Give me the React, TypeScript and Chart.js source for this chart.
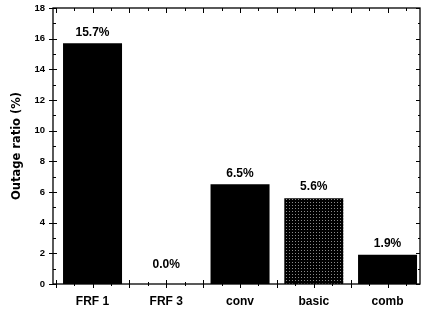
import { useEffect, useRef } from "react";
import { Chart, registerables } from "chart.js";

Chart.register(...registerables);

const categories = ["FRF 1", "FRF 3", "conv", "basic", "comb"];
const outageRatio = [15.7, 0.0, 6.5, 5.6, 1.9];
const yTickValues = [0, 2, 4, 6, 8, 10, 12, 14, 16, 18];
const yTitle = "Outage ratio (%)";

const X_MIN = 0.464;
const X_MAX = 5.44;
const SANS = "'Liberation Sans', Arial, sans-serif";

const framePlugin = {
  id: "frameTicks",
  afterDatasetsDraw(chart: any) {
    const { ctx, chartArea, scales } = chart;
    const { left, right, top, bottom } = chartArea;
    const x = scales.x;
    const y = scales.y;
    ctx.save();
    ctx.strokeStyle = "#000";
    ctx.lineWidth = 1.3;
    ctx.strokeRect(left, top, right - left, bottom - top);
    ctx.lineWidth = 1;
    ctx.beginPath();
    for (let v = 0; v <= 18; v++) {
      const py = Math.round(y.getPixelForValue(v)) + 0.5;
      const major = v % 2 === 0;
      ctx.moveTo(left - (major ? 4 : 0), py);
      ctx.lineTo(left + (major ? 4 : 3), py);
      ctx.moveTo(right, py);
      ctx.lineTo(right - (major ? 4 : 2), py);
    }
    for (let k = Math.ceil(X_MIN * 4); k <= Math.floor(X_MAX * 4); k++) {
      const px = Math.round(x.getPixelForValue(k / 4)) + 0.5;
      const major = k % 2 === 0;
      ctx.moveTo(px, bottom + (major ? 4 : 2));
      ctx.lineTo(px, bottom - (major ? 4 : 2));
      ctx.moveTo(px, top);
      ctx.lineTo(px, top + (major ? 5 : 3));
    }
    ctx.stroke();
    ctx.restore();
  },
};

const valueLabelPlugin = {
  id: "valueLabels",
  afterDatasetsDraw(chart: any) {
    const { ctx } = chart;
    const meta = chart.getDatasetMeta(0);
    const base = chart.scales.y.getPixelForValue(0);
    ctx.save();
    ctx.fillStyle = "#000";
    ctx.font = `bold 12px ${SANS}`;
    ctx.textAlign = "center";
    ctx.textBaseline = "middle";
    meta.data.forEach((bar: any, i: number) => {
      const ty = Math.min(bar.y - 11, base - 19);
      ctx.fillText(`${outageRatio[i].toFixed(1)}%`, bar.x, ty);
    });
    ctx.restore();
  },
};

export default function App() {
  const canvasRef = useRef<HTMLCanvasElement | null>(null);

  useEffect(() => {
    const canvas = canvasRef.current;
    if (!canvas) return;
    const ctx = canvas.getContext("2d");
    if (!ctx) return;

    const pc = document.createElement("canvas");
    pc.width = 3;
    pc.height = 3;
    const p = pc.getContext("2d")!;
    p.fillStyle = "#000";
    p.fillRect(0, 0, 3, 3);
    p.fillStyle = "#8a8a8a";
    p.fillRect(1, 1, 1, 1);
    const dots = ctx.createPattern(pc, "repeat") as CanvasPattern;

    const colors = categories.map((c) => (c === "basic" ? dots : "#000"));

    const chart = new Chart(ctx, {
      type: "bar",
      data: {
        datasets: [
          {
            data: outageRatio.map((v, i) => ({ x: i + 1, y: v })),
            backgroundColor: colors as any,
            borderWidth: 0,
            barPercentage: 0.8,
            categoryPercentage: 1,
          },
        ],
      },
      options: {
        responsive: false,
        animation: false,
        layout: { padding: { top: 8, right: 3, left: 0, bottom: 0 } },
        plugins: {
          legend: { display: false },
          tooltip: { enabled: false },
        },
        scales: {
          x: {
            type: "linear",
            offset: false,
            min: X_MIN,
            max: X_MAX,
            grid: { display: false, drawTicks: false, offset: false },
            border: { display: false },
            afterBuildTicks: (scale: any) => {
              scale.ticks = categories.map((_, i) => ({ value: i + 1 }));
            },
            afterFit: (scale: any) => {
              scale.height = 26;
              scale.paddingLeft = 0;
              scale.paddingRight = 0;
            },
            ticks: {
              autoSkip: false,
              maxRotation: 0,
              padding: 10,
              color: "#000",
              font: { family: SANS, size: 12, weight: "bold" },
              callback: (_v: any, index: number) => categories[index],
            },
          },
          y: {
            min: 0,
            max: 18,
            grid: { display: false, drawTicks: false },
            border: { display: false },
            afterBuildTicks: (scale: any) => {
              scale.ticks = yTickValues.map((v) => ({ value: v }));
            },
            afterFit: (scale: any) => {
              scale.width = 53;
              scale.paddingTop = 0;
              scale.paddingBottom = 0;
            },
            ticks: {
              padding: 8,
              color: "#000",
              font: { family: SANS, size: 9.5, weight: "bold" },
            },
            title: {
              display: true,
              text: yTitle,
              color: "#000",
              padding: { top: 10, bottom: 0 },
              font: { family: "'DejaVu Sans', sans-serif", size: 11.5, weight: "bold" },
            },
          },
        },
      },
      plugins: [framePlugin, valueLabelPlugin],
    });

    return () => chart.destroy();
  }, []);

  return (
    <div style={{ position: "absolute", left: 0, top: 0, width: 423, height: 310, background: "#fff" }}>
      <canvas ref={canvasRef} width={423} height={310} style={{ display: "block" }} />
    </div>
  );
}
